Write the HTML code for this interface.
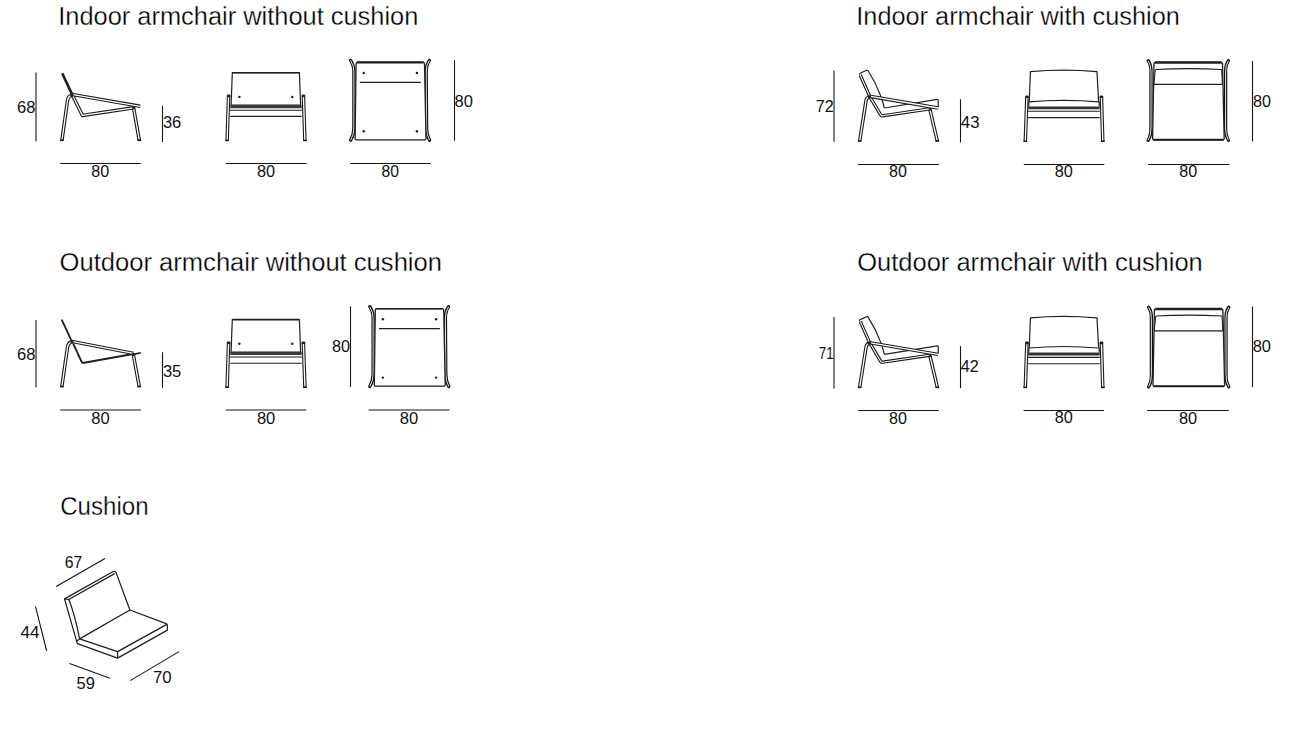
<!DOCTYPE html>
<html><head><meta charset="utf-8"><title>Armchair dimensions</title>
<style>
html,body{margin:0;padding:0;background:#fff;width:1295px;height:744px;overflow:hidden}
svg{display:block}
.t{font-family:"Liberation Sans",sans-serif;font-size:26px;fill:#000;stroke:#fff;stroke-width:0.3px}
.n{font-family:"Liberation Sans",sans-serif;font-size:17px;fill:#111}
.d{stroke:#151515;stroke-width:1.1;fill:none}
</style></head><body>
<svg width="1295" height="744" viewBox="0 0 1295 744">
<!-- titles -->
<text class="t" x="58.3" y="24.7" textLength="360" lengthAdjust="spacingAndGlyphs">Indoor armchair without cushion</text>
<text class="t" x="856.3" y="24.7" textLength="323.5" lengthAdjust="spacingAndGlyphs">Indoor armchair with cushion</text>
<text class="t" x="59.5" y="270.9" textLength="382.5" lengthAdjust="spacingAndGlyphs">Outdoor armchair without cushion</text>
<text class="t" x="857.3" y="270.9" textLength="345.5" lengthAdjust="spacingAndGlyphs">Outdoor armchair with cushion</text>
<text class="t" x="60.2" y="514.9" textLength="88.4" lengthAdjust="spacingAndGlyphs">Cushion</text>

<!-- ===== Indoor without cushion ===== -->
<g class="d">
<line x1="36" y1="72.5" x2="36" y2="141.5"/>
<line x1="162.5" y1="105.8" x2="162.5" y2="142"/>
<line x1="60.3" y1="163.5" x2="140.7" y2="163.5"/>
<line x1="225.9" y1="163.5" x2="306.6" y2="163.5"/>
<line x1="350.1" y1="163.5" x2="430.9" y2="163.5"/>
<line x1="454.5" y1="60.2" x2="454.5" y2="140.6"/>
</g>
<g class="n">
<text x="17.0" y="112.6" textLength="18.4" lengthAdjust="spacingAndGlyphs">68</text>
<text x="162.9" y="128.2" textLength="18.4" lengthAdjust="spacingAndGlyphs">36</text>
<text x="91.2" y="176.7" textLength="17.9" lengthAdjust="spacingAndGlyphs">80</text>
<text x="257.0" y="176.8" textLength="18.1" lengthAdjust="spacingAndGlyphs">80</text>
<text x="381.6" y="176.5" textLength="17.5" lengthAdjust="spacingAndGlyphs">80</text>
<text x="454.5" y="106.6" textLength="18.4" lengthAdjust="spacingAndGlyphs">80</text>
</g>

<!-- ===== Indoor with cushion ===== -->
<g class="d">
<line x1="834" y1="70.5" x2="834" y2="141.8"/>
<line x1="960.5" y1="99.3" x2="960.5" y2="142.4"/>
<line x1="858" y1="164.5" x2="939" y2="164.5"/>
<line x1="1023.8" y1="164.5" x2="1104.3" y2="164.5"/>
<line x1="1148.1" y1="164.5" x2="1229.4" y2="164.5"/>
<line x1="1252.5" y1="61.1" x2="1252.5" y2="141.5"/>
</g>
<g class="n">
<text x="815.7" y="112" textLength="17.9" lengthAdjust="spacingAndGlyphs">72</text>
<text x="960.8" y="127.8" textLength="18.7" lengthAdjust="spacingAndGlyphs">43</text>
<text x="889.1" y="177.4" textLength="17.9" lengthAdjust="spacingAndGlyphs">80</text>
<text x="1054.8" y="177.2" textLength="18.1" lengthAdjust="spacingAndGlyphs">80</text>
<text x="1179.2" y="177.4" textLength="17.9" lengthAdjust="spacingAndGlyphs">80</text>
<text x="1253.0" y="107.1" textLength="17.9" lengthAdjust="spacingAndGlyphs">80</text>
</g>

<!-- ===== Outdoor without cushion ===== -->
<g class="d">
<line x1="36" y1="319.9" x2="36" y2="387.5"/>
<line x1="162.5" y1="352.2" x2="162.5" y2="387.8"/>
<line x1="60.3" y1="410" x2="140.9" y2="410"/>
<line x1="225.8" y1="410" x2="306.3" y2="410"/>
<line x1="368.7" y1="410" x2="449.6" y2="410"/>
<line x1="350.5" y1="306.3" x2="350.5" y2="386.8"/>
</g>
<g class="n">
<text x="17.0" y="359.5" textLength="18.4" lengthAdjust="spacingAndGlyphs">68</text>
<text x="162.9" y="376.7" textLength="18.4" lengthAdjust="spacingAndGlyphs">35</text>
<text x="91.2" y="423.8" textLength="18.4" lengthAdjust="spacingAndGlyphs">80</text>
<text x="256.9" y="423.9" textLength="18.4" lengthAdjust="spacingAndGlyphs">80</text>
<text x="399.7" y="423.9" textLength="18.4" lengthAdjust="spacingAndGlyphs">80</text>
<text x="332.0" y="352.4" textLength="18.0" lengthAdjust="spacingAndGlyphs">80</text>
</g>

<!-- ===== Outdoor with cushion ===== -->
<g class="d">
<line x1="834" y1="316.9" x2="834" y2="388.5"/>
<line x1="960.5" y1="346.1" x2="960.5" y2="388.2"/>
<line x1="858" y1="410.5" x2="938.8" y2="410.5"/>
<line x1="1023.6" y1="410.5" x2="1104" y2="410.5"/>
<line x1="1147.2" y1="410.5" x2="1228.7" y2="410.5"/>
<line x1="1252.5" y1="306.7" x2="1252.5" y2="387.2"/>
</g>
<g class="n">
<text x="818.7" y="359.2" textLength="14.9" lengthAdjust="spacingAndGlyphs">71</text>
<text x="960.8" y="372.3" textLength="17.9" lengthAdjust="spacingAndGlyphs">42</text>
<text x="889.1" y="423.8" textLength="17.9" lengthAdjust="spacingAndGlyphs">80</text>
<text x="1054.8" y="423.1" textLength="18.1" lengthAdjust="spacingAndGlyphs">80</text>
<text x="1178.9" y="423.6" textLength="18.2" lengthAdjust="spacingAndGlyphs">80</text>
<text x="1252.7" y="352.4" textLength="18.3" lengthAdjust="spacingAndGlyphs">80</text>
</g>

<!-- ===== Cushion ===== -->
<g class="d">
<line x1="56.2" y1="586.5" x2="105" y2="558.4"/>
<line x1="35.5" y1="606.6" x2="46.7" y2="651"/>
<line x1="69.5" y1="663.4" x2="110" y2="678.2"/>
<line x1="130.2" y1="680.6" x2="179" y2="651.6"/>
</g>
<g class="n">
<text x="64.8" y="568.2" textLength="17.5" lengthAdjust="spacingAndGlyphs">67</text>
<text x="20.4" y="638.3" textLength="19.0" lengthAdjust="spacingAndGlyphs">44</text>
<text x="76.6" y="688.6" textLength="18.4" lengthAdjust="spacingAndGlyphs">59</text>
<text x="152.9" y="682.7" textLength="18.7" lengthAdjust="spacingAndGlyphs">70</text>
</g>

<!-- DRAWINGS -->
<defs>
<g id="s1t">
<path d="M71.6,94.4 L140.3,106.3"/>
<path d="M72.3,95 L82.4,115.4 L133.6,107.8"/>
<path d="M71.2,95.4 C69.2,96 68.1,97.6 67.6,100 L61.9,140.5"/>
<path d="M133.6,108 L139.3,140.5"/>
</g>
<g id="f1t">
<path d="M228.6,95.6 L227.1,141"/>
<path d="M303.4,95.6 L304.9,141"/>
</g>
<g id="t1t">
<path d="M350.6,60.4 Q354,65.5 353.9,72 L353.9,128 Q354,134.5 350.6,140.2"/>
<path d="M429.4,60.4 Q426,65.5 426.2,72 L426.6,128 Q426.5,134.5 429.6,140.2"/>
</g>
<g id="s2t">
<path d="M869.2,96.2 L938,108"/>
<path d="M868.6,97.1 C866.9,97.6 866.3,99 866,101 L859.6,141.3"/>
<path d="M930,109.8 L937.4,141.3"/>
</g>
<g id="f2t">
<path d="M1026.9,96.4 L1025.3,141.8"/>
<path d="M1101.4,96.4 L1102.8,141.8"/>
</g>
<g id="t2t">
<path d="M1148.2,60.8 Q1151.2,65 1151,72 L1151,128 Q1151.2,135 1148.2,140.2"/>
<path d="M1228.4,60.8 Q1225.4,65 1225.6,72 L1225.6,128 Q1225.4,135 1228.4,140.2"/>
</g>
<g id="s3tp">
<path d="M71.6,341.4 L133.4,353.4"/>
<path d="M71.2,342 C69.2,342.6 68.1,344.2 67.6,346.6 L61.8,387"/>
<path d="M133.3,354.5 L139.3,387"/>
</g>
</defs>
<g fill="none" stroke-linejoin="round">
<!-- S1 side -->
<use href="#s1t" stroke="#1a1a1a" stroke-width="3.5"/>
<use href="#s1t" stroke="#fff" stroke-width="1.3"/>
<path d="M62.2,73.2 L72.1,94.4" stroke="#1e1e1e" stroke-width="2.6"/>
<g fill="#1e1e1e" stroke="none">
<circle cx="72" cy="95.4" r="1.7"/>
<circle cx="133.8" cy="107.8" r="1.5"/>
<rect x="60.1" y="139.3" width="3.6" height="1.8"/>
<rect x="137.5" y="139.3" width="3.6" height="1.8"/>
</g>
<!-- F1 front -->
<use href="#f1t" stroke="#1a1a1a" stroke-width="3.5"/>
<use href="#f1t" stroke="#fff" stroke-width="1.3"/>
<g stroke="#1e1e1e">
<path d="M232.3,72.7 L299.4,72.7 L300.6,105.2 L231.1,105.2 Z" stroke-width="1.2"/>
<path d="M232.6,72.8 L299.1,72.8" stroke-width="1.6"/>
<path d="M230.3,106.8 L301.7,106.8" stroke-width="3" stroke="#3a3a3a"/>
<path d="M229.8,110.2 L302.2,110.2" stroke-width="1.1"/>
<path d="M230.3,116.4 L301.7,116.4" stroke-width="1.1"/>
</g>
<g fill="#1e1e1e" stroke="none">
<circle cx="239.4" cy="97" r="1.2"/><circle cx="292.3" cy="97" r="1.2"/>
<rect x="226.9" y="94.6" width="3.5" height="2.6" rx="1"/><rect x="301.7" y="94.6" width="3.5" height="2.6" rx="1"/>
<rect x="225.3" y="139.6" width="3.6" height="1.6"/>
<rect x="303.1" y="139.6" width="3.6" height="1.6"/>
</g>
<!-- T1 top -->
<use href="#t1t" stroke="#111" stroke-width="3.3" stroke-linecap="round"/>
<use href="#t1t" stroke="#fff" stroke-width="0.9"/>
<g stroke="#1e1e1e">
<path d="M357.2,62.4 L423.2,62.4 Q424.4,62.4 424.5,63.6 L426,138.4 Q426,139.8 424.8,139.8 L356.3,139.8 Q355,139.8 355.1,138.4 L356.1,63.6 Q356.2,62.4 357.2,62.4 Z" stroke-width="1.3" fill="#fff"/>
<path d="M357,62.4 L423.6,62.4" stroke-width="2.4"/>
<path d="M359.8,82.4 L420.7,82.4" stroke-width="1.3"/>
</g>
<g fill="#1e1e1e" stroke="none">
<circle cx="363.7" cy="73" r="1.2"/><circle cx="416.9" cy="73" r="1.2"/>
<circle cx="363.7" cy="131.3" r="1.2"/><circle cx="416.9" cy="131.3" r="1.2"/>
</g>
<!-- S2 side -->
<g stroke="#1e1e1e">
<path d="M859.7,74.7 Q859.3,73.3 860.6,73 L866.6,70.3 Q867.8,70 868.4,71.2 Q876,83 880.8,96.2 Q883,102 884.3,108" stroke-width="1.2"/>
<path d="M884.3,108 L937.4,99.4 Q938.2,99.3 938.2,100.2 L938.2,107.2" stroke-width="1.2"/>
</g>
<path id="s2s" d="M860.2,75 L869.7,96.4 L880.6,114.8 Q881.2,116 882.6,115.8 L929.4,108.9" stroke="#1a1a1a" stroke-width="3.3"/>
<path d="M860.2,75 L869.7,96.4 L880.6,114.8 Q881.2,116 882.6,115.8 L929.4,108.9" stroke="#fff" stroke-width="1.1"/>
<use href="#s2t" stroke="#1a1a1a" stroke-width="3.5"/>
<use href="#s2t" stroke="#fff" stroke-width="1.3"/>
<g fill="#1e1e1e" stroke="none">
<circle cx="869.4" cy="96.8" r="1.6"/>
<circle cx="930.2" cy="109.4" r="1.4"/>
<rect x="857.8" y="140.1" width="3.6" height="1.7"/>
<rect x="935.6" y="140.1" width="3.6" height="1.7"/>
</g>
<!-- F2 front -->
<use href="#f2t" stroke="#1a1a1a" stroke-width="3.5"/>
<use href="#f2t" stroke="#fff" stroke-width="1.3"/>
<g stroke="#1e1e1e">
<path d="M1029.3,101.6 L1030.4,71.6 Q1063.2,68.6 1097,71.6 L1098.6,101.6" stroke-width="1.2"/>
<path d="M1028.8,106.4 L1028.8,101.8 Q1063.2,98.8 1099.2,101.8 L1099.2,106.4" stroke-width="1.2"/>
<path d="M1028.2,107.8 L1099.7,107.8" stroke-width="2.8" stroke="#333"/>
<path d="M1028.2,111.2 L1099.7,111.2" stroke-width="1.1"/>
<path d="M1028.2,117.6 L1099.7,117.6" stroke-width="1.1"/>
</g>
<g fill="#1e1e1e" stroke="none">
<rect x="1023.5" y="140.4" width="3.6" height="1.6"/>
<rect x="1025.2" y="95.4" width="3.5" height="2.6" rx="1"/><rect x="1099.7" y="95.4" width="3.5" height="2.6" rx="1"/>
<rect x="1101.0" y="140.4" width="3.6" height="1.6"/>
</g>
<!-- T2 top -->
<use href="#t2t" stroke="#111" stroke-width="3.3" stroke-linecap="round"/>
<use href="#t2t" stroke="#fff" stroke-width="0.9"/>
<g stroke="#1e1e1e">
<path d="M1155.2,62.4 L1221.2,62.4 Q1222.4,62.4 1222.5,63.6 L1224.2,138.4 Q1224.2,139.8 1223,139.8 L1153.8,139.8 Q1152.5,139.8 1152.6,138.4 L1154,63.6 Q1154.1,62.4 1155.2,62.4 Z" stroke-width="1.3" fill="#fff"/>
<path d="M1155,62.5 L1221.6,62.5" stroke-width="2.4"/>
<path d="M1153.4,139.7 L1223.6,139.7" stroke-width="2"/>
<path d="M1155.4,69.5 Q1188.5,67.8 1221.6,69.5" stroke-width="1.2"/>
<path d="M1153.6,84.4 L1222.4,84.4" stroke-width="1.3"/>
<path d="M1155.4,69.5 L1153.8,84.2 M1221.6,69.5 L1222.4,84.2" stroke-width="1"/>
</g>
<!-- S3 side -->
<g stroke="#1e1e1e">
<path d="M61.7,319.7 L71.6,340.9" stroke-width="1.8"/>
<path d="M73.1,343.4 L81.4,361.4 Q82.4,363.1 84.2,362.7 L131.5,354.3" stroke-width="1.9"/>
<path d="M133.4,354.4 L140.9,352.8" stroke-width="1.6"/>
</g>
<g id="s3t">
<use href="#s3tp" stroke="#1a1a1a" stroke-width="3.5"/>
<use href="#s3tp" stroke="#fff" stroke-width="1.3"/>
</g>
<g fill="#1e1e1e" stroke="none">
<circle cx="72" cy="342" r="1.6"/>
<circle cx="133.4" cy="354.4" r="1.6"/>
<rect x="60.0" y="385.7" width="3.6" height="1.7"/>
<rect x="137.5" y="385.7" width="3.6" height="1.7"/>
</g>
<g transform="translate(0,246.8)">
<!-- F3 front -->
<use href="#f1t" stroke="#1a1a1a" stroke-width="3.5"/>
<use href="#f1t" stroke="#fff" stroke-width="1.3"/>
<g stroke="#1e1e1e">
<path d="M232.3,72.7 L299.4,72.7 L300.6,105.2 L231.1,105.2 Z" stroke-width="1.2"/>
<path d="M232.6,72.8 L299.1,72.8" stroke-width="1.6"/>
<path d="M230.3,106.8 L301.7,106.8" stroke-width="3" stroke="#3a3a3a"/>
<path d="M229.8,110.2 L302.2,110.2" stroke-width="1.1"/>
<path d="M230.3,116.4 L301.7,116.4" stroke-width="1.1"/>
</g>
<g fill="#1e1e1e" stroke="none">
<circle cx="239.4" cy="97" r="1.2"/><circle cx="292.3" cy="97" r="1.2"/>
<rect x="226.9" y="94.6" width="3.5" height="2.6" rx="1"/><rect x="301.7" y="94.6" width="3.5" height="2.6" rx="1"/>
<rect x="225.3" y="139.6" width="3.6" height="1.6"/>
<rect x="303.1" y="139.6" width="3.6" height="1.6"/>
</g>
</g>
<g transform="translate(19.2,246.3)">
<!-- T3 top -->
<use href="#t1t" stroke="#111" stroke-width="3.3" stroke-linecap="round"/>
<use href="#t1t" stroke="#fff" stroke-width="0.9"/>
<g stroke="#1e1e1e">
<path d="M357.2,62.4 L423.2,62.4 Q424.4,62.4 424.5,63.6 L426,138.4 Q426,139.8 424.8,139.8 L356.3,139.8 Q355,139.8 355.1,138.4 L356.1,63.6 Q356.2,62.4 357.2,62.4 Z" stroke-width="1.3" fill="#fff"/>
<path d="M357,62.4 L423.6,62.4" stroke-width="1.6"/>
<path d="M359.8,82.4 L420.7,82.4" stroke-width="1.3"/>
</g>
<g fill="#1e1e1e" stroke="none">
<circle cx="363.7" cy="73" r="1.2"/><circle cx="416.9" cy="73" r="1.2"/>
<circle cx="363.7" cy="131.3" r="1.2"/><circle cx="416.9" cy="131.3" r="1.2"/>
</g>
</g>
<g transform="translate(0,246.4)">
<!-- S4 side -->
<g stroke="#1e1e1e">
<path d="M859.7,74.7 Q859.3,73.3 860.6,73 L866.6,70.3 Q867.8,70 868.4,71.2 Q876,83 880.8,96.2 Q883,102 884.3,108" stroke-width="1.2"/>
<path d="M884.3,108 L937.4,99.4 Q938.2,99.3 938.2,100.2 L938.2,107.2" stroke-width="1.2"/>
</g>
<path d="M860.2,75 L869.7,96.4 L880.6,114.8 Q881.2,116 882.6,115.8 L929.4,108.9" stroke="#1a1a1a" stroke-width="3.3"/>
<path d="M860.2,75 L869.7,96.4 L880.6,114.8 Q881.2,116 882.6,115.8 L929.4,108.9" stroke="#fff" stroke-width="1.1"/>
<use href="#s2t" stroke="#1a1a1a" stroke-width="3.5"/>
<use href="#s2t" stroke="#fff" stroke-width="1.3"/>
<g fill="#1e1e1e" stroke="none">
<circle cx="869.4" cy="96.8" r="1.6"/>
<circle cx="930.2" cy="109.4" r="1.4"/>
<rect x="857.8" y="140.1" width="3.6" height="1.7"/>
<rect x="935.6" y="140.1" width="3.6" height="1.7"/>
</g>
</g>
<g transform="translate(0,246.2)">
<!-- F4 front -->
<use href="#f2t" stroke="#1a1a1a" stroke-width="3.5"/>
<use href="#f2t" stroke="#fff" stroke-width="1.3"/>
<g stroke="#1e1e1e">
<path d="M1029.3,101.6 L1030.4,71.6 Q1063.2,68.6 1097,71.6 L1098.6,101.6" stroke-width="1.2"/>
<path d="M1028.8,106.4 L1028.8,101.8 Q1063.2,98.8 1099.2,101.8 L1099.2,106.4" stroke-width="1.2"/>
<path d="M1028.2,107.8 L1099.7,107.8" stroke-width="2.8" stroke="#333"/>
<path d="M1028.2,111.2 L1099.7,111.2" stroke-width="1.1"/>
<path d="M1028.2,117.6 L1099.7,117.6" stroke-width="1.1"/>
</g>
<g fill="#1e1e1e" stroke="none">
<rect x="1023.5" y="140.4" width="3.6" height="1.6"/>
<rect x="1025.2" y="95.4" width="3.5" height="2.6" rx="1"/><rect x="1099.7" y="95.4" width="3.5" height="2.6" rx="1"/>
<rect x="1101.0" y="140.4" width="3.6" height="1.6"/>
</g>
</g>
<g transform="translate(0.4,246.5)">
<!-- T4 top -->
<use href="#t2t" stroke="#111" stroke-width="3.3" stroke-linecap="round"/>
<use href="#t2t" stroke="#fff" stroke-width="0.9"/>
<g stroke="#1e1e1e">
<path d="M1155.2,62.4 L1221.2,62.4 Q1222.4,62.4 1222.5,63.6 L1224.2,138.4 Q1224.2,139.8 1223,139.8 L1153.8,139.8 Q1152.5,139.8 1152.6,138.4 L1154,63.6 Q1154.1,62.4 1155.2,62.4 Z" stroke-width="1.3" fill="#fff"/>
<path d="M1155,62.5 L1221.6,62.5" stroke-width="2.4"/>
<path d="M1153.4,139.7 L1223.6,139.7" stroke-width="2"/>
<path d="M1155.4,69.5 Q1188.5,67.8 1221.6,69.5" stroke-width="1.2"/>
<path d="M1153.6,84.4 L1222.4,84.4" stroke-width="1.3"/>
<path d="M1155.4,69.5 L1153.8,84.2 M1221.6,69.5 L1222.4,84.2" stroke-width="1"/>
</g>
</g>
<!-- Cushion -->
<g stroke="#1e1e1e" stroke-width="1.25" stroke-linejoin="round" fill="none">
<path d="M64.5,598.9 L112.8,571.7 Q115,570.6 116.1,572.6 L129.9,610 L166.1,623.6 Q167.4,624.2 167.4,625.3 L167.4,630.1 L117.6,658.1 L77.4,643.7 L76.6,641.2 L64.5,598.9 Z"/>
<path d="M68.8,599.5 L114.6,573.6"/>
<path d="M64.5,598.9 L68.8,599.5 Q75,615 79.6,638.9 L129.9,610"/>
<path d="M79.6,638.9 L117.6,651.6 L166.8,624.4"/>
<path d="M117.6,651.6 L117.6,658.1"/>
<path d="M76.6,641.2 L79.6,638.9"/>
</g>
</g>
</svg>
</body></html>
